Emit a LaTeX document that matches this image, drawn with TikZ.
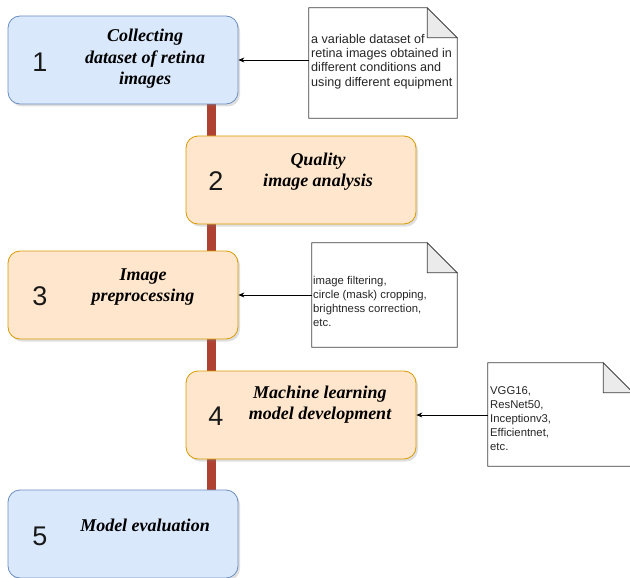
\documentclass[tikz,border=0pt]{standalone}
\usepackage{fontspec}
\setmainfont{Liberation Serif}
\newfontfamily\sansf{Liberation Sans}
\usetikzlibrary{arrows.meta,shadows,calc}
\definecolor{bluefill}{HTML}{DAE8FC}
\definecolor{bluedraw}{HTML}{6C8EBF}
\definecolor{orfill}{HTML}{FFE6CC}
\definecolor{ordraw}{HTML}{D79B00}
\definecolor{barred}{HTML}{AE4132}
\definecolor{foldgray}{HTML}{EBEBEB}
\newcommand\drawnote[1]{%
  \draw[noteline, fill=white] (#1.north west) -- ($(#1.north east)+(-30,0)$) -- ($(#1.north east)+(0,30)$) -- (#1.south east) -- (#1.south west) -- cycle;
  \draw[noteline, fill=foldgray] ($(#1.north east)+(-30,0)$) -- ($(#1.north east)+(-30,30)$) -- ($(#1.north east)+(0,30)$) -- cycle;}
\begin{document}
\begin{tikzpicture}[x=1pt,y=-1pt,
 stepbox/.style={rectangle, rounded corners=12pt, minimum width=230pt, minimum height=88pt, inner sep=0pt, line width=0.8pt, drop shadow={shadow xshift=2pt,shadow yshift=-2.5pt,opacity=0.25}},
 bluebox/.style={stepbox, fill=bluefill, draw=bluedraw},
 orbox/.style={stepbox, fill=orfill, draw=ordraw},
 num/.style={font=\sansf\fontsize{27}{30}\selectfont, inner sep=0pt, text=black!90},
 ttl/.style={font=\fontsize{18}{21.5}\selectfont\bfseries\itshape, align=center, inner sep=0pt},
 notebox/.style={rectangle, inner sep=0pt},
 noteline/.style={draw=black!75, line width=0.8pt},
 notetxt/.style={font=\sansf\fontsize{11.3}{14}\selectfont, align=left, inner sep=0pt, anchor=west, text=black!85},
 arr/.style={-{Stealth[length=6pt,width=5pt]}, line width=0.7pt},
 bar/.style={draw=barred, line width=9pt},
]
\useasboundingbox (0,0) rectangle (630,578);
\clip (0,0) rectangle (630,578);

% red spine
\coordinate (bt) at (211.5,100);
\coordinate (bb) at (211.5,495);
\draw[bar] (bt) -- (bb);

% step boxes
\node[bluebox] (b1) at (123,60) {};
\node[orbox]   (b2) at (301,180) {};
\node[orbox]   (b3) at (123,295) {};
\node[orbox]   (b4) at (301,415) {};
\node[bluebox] (b5) at (123,534) {};

\node[num] (n1) at (40,62) {1};
\node[num] (n2) at (216,181) {2};
\node[num] (n3) at (40,296) {3};
\node[num] (n4) at (216,416) {4};
\node[num] (n5) at (40,536) {5};

\node[ttl] (t1) at (145,59) {Collecting\\dataset of retina\\images};
\node[ttl] (t2) at (318,171.5) {Quality\\image analysis};
\node[ttl] (t3) at (143,287) {Image\\preprocessing};
\node[ttl] (t4) at (320,404.5) {Machine learning\\model development};
\node[ttl] (t5) at (145,525) {Model evaluation};

% notes
\node[notebox, minimum width=148pt, minimum height=110pt] (m1) at (383,63) {};
\node[notebox, minimum width=145pt, minimum height=104pt] (m2) at (384.5,295) {};
\node[notebox, minimum width=145pt, minimum height=103pt] (m3) at (560.5,414.5) {};
\drawnote{m1}
\drawnote{m2}
\drawnote{m3}

\node[notetxt, font=\sansf\fontsize{12.6}{14.2}\selectfont] (x1) at (311,61.5) {a variable dataset of\\retina images obtained in\\different conditions and\\using different equipment};
\node[notetxt] (x2) at (313,301) {image filtering,\\circle (mask) cropping,\\brightness correction,\\etc.};
\node[notetxt] (x3) at (490,419) {VGG16,\\ResNet50,\\Inceptionv3,\\Efficientnet,\\etc.};

% connectors
\draw[arr] (m1.west |- b1.east) -- (b1.east);
\draw[arr] (m2.west |- b3.east) -- (b3.east);
\draw[arr] (m3.west |- b4.east) -- (b4.east);
\end{tikzpicture}
\end{document}
